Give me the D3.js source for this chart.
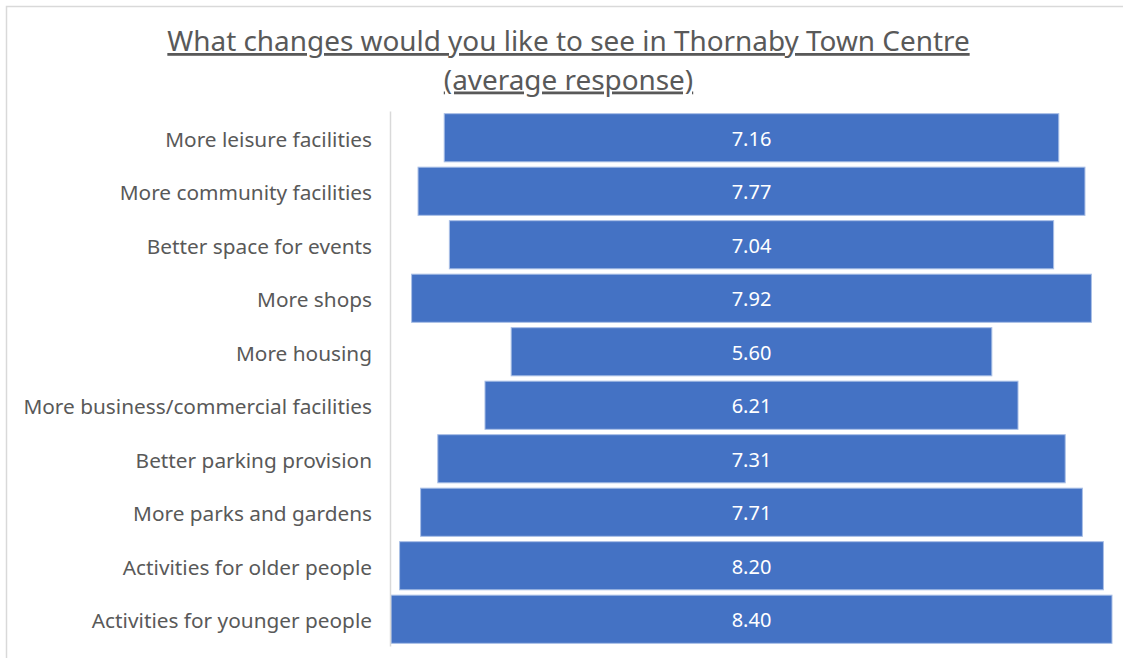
<!DOCTYPE html>
<html>
<head>
<meta charset="utf-8">
<script src="https://cdn.jsdelivr.net/npm/d3@7"></script>
<style>
  body { margin: 0; background: #fff; }
  svg { display: block; font-family: "Noto Sans", "Open Sans", sans-serif; }
</style>
</head>
<body>
<svg id="chart"></svg>
<script>
// data, top to bottom as in the chart
const categories = [
    "More leisure facilities",
    "More community facilities",
    "Better space for events",
    "More shops",
    "More housing",
    "More business/commercial facilities",
    "Better parking provision",
    "More parks and gardens",
    "Activities for older people",
    "Activities for younger people"
];
const values = [7.16, 7.77, 7.04, 7.92, 5.60, 6.21, 7.31, 7.71, 8.20, 8.40];
const titleLines = [
    "What changes would you like to see in Thornaby Town Centre",
    "(average response)"
];

const width = 1123
const height = 658
const axisX = 390
const barColor = "#4472c4"
const textColor = "#595959"

const svg = d3.select("#chart")
    .attr("width", width)
    .attr("height", height);

// chart frame (only top and left edges show in the picture)
svg.append("path")
    .attr("d", `M6.5,${height} V6.5 H${width}`)
    .attr("fill", "none")
    .attr("stroke", "#d9d9d9")
    .attr("stroke-width", 1.5);

// title
svg.append("g")
    .selectAll("text")
    .data(titleLines)
    .join("text")
    .attr("x", 568.5)
    .attr("y", (d, i) => 51 + i * 38.5)
    .attr("text-anchor", "middle")
    .attr("fill", textColor)
    .style("font-size", "27.9px")
    .style("text-decoration", "underline")
    .text(d => d);

const y = d3.scaleBand()
    .domain(categories)
    .range([111, 646])
    .paddingInner(0.1)
    .paddingOuter(0.05);

// funnel style: bar width proportional to value, centred
const w = d3.scaleLinear()
    .domain([0, d3.max(values)])
    .range([0, 721]);
const centre = 751.5

const data = categories.map((c, i) => ({ cat: c, value: values[i] }));

svg.append("g")
    .selectAll("rect")
    .data(data)
    .join("rect")
    .attr("x", d => centre - w(d.value) / 2)
    .attr("y", d => y(d.cat))
    .attr("width", d => w(d.value))
    .attr("height", y.bandwidth())
    .attr("fill", barColor)
    .attr("stroke", "#a9bfe6")
    .attr("stroke-width", 1);

svg.append("g")
    .selectAll("text")
    .data(data)
    .join("text")
    .attr("x", centre)
    .attr("y", d => y(d.cat) + y.bandwidth() / 2)
    .attr("dy", "0.4em")
    .attr("text-anchor", "middle")
    .attr("fill", "#fff")
    .style("font-size", "20px")
    .text(d => d.value.toFixed(2));

// category axis
const yAxis = g => g
    .attr("transform", `translate(${axisX},0)`)
    .call(d3.axisLeft(y).tickSize(0).tickPadding(18))
    .call(g => g.select(".domain")
        .attr("stroke", "#d9d9d9")
        .attr("stroke-width", 1.5))
    .call(g => g.selectAll("text")
        .attr("dy", "0.42em")
        .attr("fill", textColor)
        .style("font-size", "20.8px")
        .style("font-family", "\"Noto Sans\", \"Open Sans\", sans-serif"));

svg.append("g").call(yAxis);
</script>
</body>
</html>
